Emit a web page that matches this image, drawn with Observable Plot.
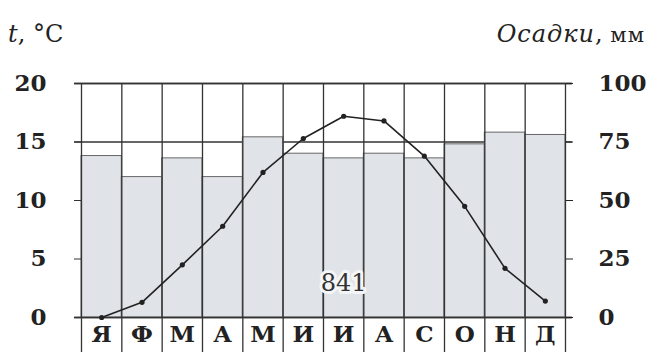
<!DOCTYPE html>
<html>
<head>
<meta charset="utf-8">
<script src="https://cdn.jsdelivr.net/npm/d3@7"></script>
<script src="https://cdn.jsdelivr.net/npm/@observablehq/plot@0.6"></script>
<style>
  body { margin: 0; background: #fff; }
  #wrap { position: relative; width: 652px; height: 362px; font-family: "DejaVu Serif", serif; color: #222; }
  .ttl { position: absolute; top: 20px; font-size: 24px; line-height: 28px; white-space: nowrap; }
  #tl { left: 8px; }
  #tr { right: 7px; }
  #tr i { letter-spacing: 1px; }
  .sc { font-size: 21px; letter-spacing: 1px; }
</style>
</head>
<body>
<div id="wrap">
  <div id="chart"></div>
  <div class="ttl" id="tl"><i>t</i>, °C</div>
  <div class="ttl" id="tr"><i>Осадки</i>, <span class="sc">мм</span></div>
</div>
<script>
const months = ["Я","Ф","М","А","М","И","И","А","С","О","Н","Д"];
const precip = [69, 60, 68, 60, 77, 70, 68, 70, 68, 74, 79, 78];
const temps  = [0, 1.3, 4.5, 7.8, 12.4, 15.3, 17.2, 16.8, 13.8, 9.5, 4.2, 1.4];
const tempTicks = [0, 5, 10, 15, 20];
const precipTicks = [0, 25, 50, 75, 100];
const tempLines = [0, 15, 20];
const totalLabel = {month: 6, value: 2.9, text: "841"};

const data = months.map((m, i) => ({i, m, p: precip[i], t: temps[i]}));
const ratio = 100 / 20; // mm per °C on the twin axes

const chart = Plot.plot({
  width: 652,
  height: 362,
  marginLeft: 81,
  marginRight: 87,
  marginTop: 83,
  marginBottom: 45,
  style: {fontFamily: "DejaVu Serif, serif", color: "#222", background: "#fff"},
  x: {domain: [0, 12], axis: null},
  y: {domain: [0, 20], axis: null},
  marks: [
    Plot.ruleY(tempLines, {y: d => d, x1: -0.17, x2: 12.17, stroke: "#333", strokeWidth: 1.3}),
    Plot.rectY(data, {x1: d => d.i, x2: d => d.i + 1, y1: 0, y2: d => d.p / ratio, fill: "#e0e4e9", stroke: "#666", strokeWidth: 1, inset: 0}),
    Plot.ruleX(d3.range(months.length + 1), {x: d => d, y1: -3, y2: 20, stroke: "#333", strokeWidth: 1.3}),
    Plot.ruleY([0, 20], {y: d => d, x1: -0.17, x2: 12.17, stroke: "#333", strokeWidth: 1.3}),
    Plot.axisY({anchor: "left", ticks: tempTicks, tickSize: 7, tickPadding: 28, fontSize: 23, fontWeight: "bold", stroke: "#333"}),
    Plot.axisY({anchor: "right", ticks: precipTicks.map(v => v / ratio), tickFormat: v => v * ratio, tickSize: 7, tickPadding: 26, fontSize: 23, fontWeight: "bold", textAnchor: "start"}),
    Plot.line(data, {x: d => d.i + 0.5, y: "t", stroke: "#222", strokeWidth: 1.6}),
    Plot.dot(data, {x: d => d.i + 0.5, y: "t", r: 2.6, fill: "#222"}),
    Plot.text(data, {x: d => d.i + 0.5, y: -1.5, text: "m", fontSize: 23, fontWeight: "bold", fill: "#222"}),
    Plot.text([totalLabel], {x: d => d.month + 0.5, y: "value", text: "text", fontSize: 24, fill: "#333", stroke: "#f4f5f7", strokeWidth: 6})
  ]
});
document.getElementById("chart").appendChild(chart);
</script>
</body>
</html>
